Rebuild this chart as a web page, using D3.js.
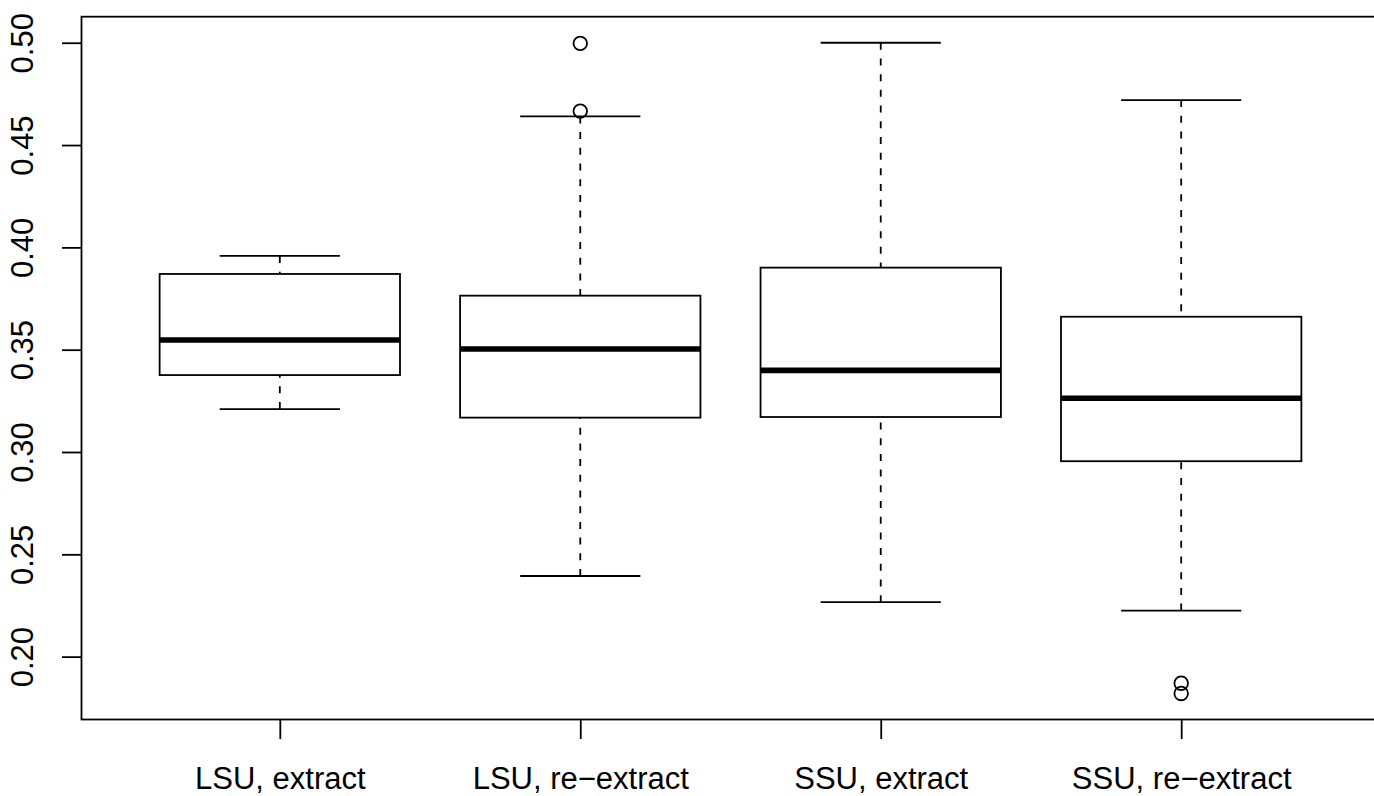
<!DOCTYPE html>
<html>
<head>
<meta charset="utf-8">
<script src="https://cdn.jsdelivr.net/npm/d3@7"></script>
<style>
  html, body { margin: 0; padding: 0; background: #fff; }
  svg { display: block; }
  text { font-family: "Liberation Sans", Arial, Helvetica, sans-serif; fill: #000; }
</style>
</head>
<body>
<svg id="chart" width="1374" height="796"></svg>
<script>
// ---- data ----
const categories = ["LSU, extract", "LSU, re\u2212extract", "SSU, extract", "SSU, re\u2212extract"];
const lowerWhisker = [0.321, 0.2394, 0.2266, 0.2225];
const q1 = [0.3376, 0.3168, 0.3171, 0.2955];
const median = [0.3547, 0.3503, 0.3399, 0.3263];
const q3 = [0.3870, 0.3764, 0.3901, 0.3661];
const upperWhisker = [0.3958, 0.4640, 0.5000, 0.4720];
const outliers = [[], [0.4666, 0.4997], [], [0.1870, 0.1820]];
const yTicks = [0.20, 0.25, 0.30, 0.35, 0.40, 0.45, 0.50];
const yTickLabels = ["0.20", "0.25", "0.30", "0.35", "0.40", "0.45", "0.50"];

// ---- layout ----
const svg = d3.select("#chart");
const plot = { left: 81.5, right: 1379.5, top: 16.7, bottom: 719.5 };

const allVals = [].concat(lowerWhisker, upperWhisker, outliers.flat());
const yMin = d3.min(allVals), yMax = d3.max(allVals);
const ext = (yMax - yMin) * 0.04;
const y = d3.scaleLinear().domain([yMin - ext, yMax + ext]).range([plot.bottom, plot.top]);
const n = categories.length;
const xExt = (n + 0.5 - 0.5) * 0.04;
const x = d3.scaleLinear().domain([0.5 - xExt, n + 0.5 + xExt]).range([plot.left, plot.right]);
const unit = x(2) - x(1);
const boxW = 0.8 * unit;
const stapleW = 0.5 * boxW;

const lw = 1.8;

const data = categories.map((c, i) => ({
  i, c, lo: lowerWhisker[i], q1: q1[i], med: median[i], q3: q3[i], hi: upperWhisker[i], out: outliers[i]
}));

const g = svg.append("g");

const boxes = g.selectAll("g.box").data(data).join("g").attr("class", "box");

// whiskers (dashed), drawn from staple toward box
boxes.append("line")
  .attr("x1", d => x(d.i + 1)).attr("x2", d => x(d.i + 1))
  .attr("y1", d => y(d.lo)).attr("y2", d => y(d.q1))
  .attr("stroke", "#000").attr("stroke-width", lw).attr("stroke-dasharray", "7,8.7");
boxes.append("line")
  .attr("x1", d => x(d.i + 1)).attr("x2", d => x(d.i + 1))
  .attr("y1", d => y(d.hi)).attr("y2", d => y(d.q3))
  .attr("stroke", "#000").attr("stroke-width", lw).attr("stroke-dasharray", "7,8.7");

// staples
boxes.append("line")
  .attr("x1", d => x(d.i + 1) - stapleW / 2).attr("x2", d => x(d.i + 1) + stapleW / 2)
  .attr("y1", d => y(d.lo)).attr("y2", d => y(d.lo))
  .attr("stroke", "#000").attr("stroke-width", lw);
boxes.append("line")
  .attr("x1", d => x(d.i + 1) - stapleW / 2).attr("x2", d => x(d.i + 1) + stapleW / 2)
  .attr("y1", d => y(d.hi)).attr("y2", d => y(d.hi))
  .attr("stroke", "#000").attr("stroke-width", lw);

// box
boxes.append("rect")
  .attr("x", d => x(d.i + 1) - boxW / 2)
  .attr("width", boxW)
  .attr("y", d => y(d.q3))
  .attr("height", d => y(d.q1) - y(d.q3))
  .attr("fill", "#fff").attr("stroke", "#000").attr("stroke-width", lw);

// median
boxes.append("line")
  .attr("x1", d => x(d.i + 1) - boxW / 2).attr("x2", d => x(d.i + 1) + boxW / 2)
  .attr("y1", d => y(d.med)).attr("y2", d => y(d.med))
  .attr("stroke", "#000").attr("stroke-width", 5.6);

// outliers
boxes.selectAll("circle").data(d => d.out.map(v => ({ i: d.i, v }))).join("circle")
  .attr("cx", d => x(d.i + 1)).attr("cy", d => y(d.v)).attr("r", 6.8)
  .attr("fill", "none").attr("stroke", "#000").attr("stroke-width", lw);

// frame
g.append("rect")
  .attr("x", plot.left).attr("y", plot.top)
  .attr("width", plot.right - plot.left).attr("height", plot.bottom - plot.top)
  .attr("fill", "none").attr("stroke", "#000").attr("stroke-width", lw);

// y axis
const yAxis = d3.axisLeft(y).tickValues(yTicks).tickSize(19.5).tickPadding(0)
  .tickFormat((d, i) => yTickLabels[i]);
const ya = svg.append("g").attr("transform", `translate(${plot.left},0)`).call(yAxis);
ya.select(".domain").remove();
ya.selectAll(".tick line").attr("stroke", "#000").attr("stroke-width", lw);
ya.selectAll(".tick text")
  .attr("x", null).attr("dy", null)
  .attr("text-anchor", "middle")
  .attr("font-size", 31)
  .attr("transform", "translate(-48.5,0) rotate(-90)")
  .attr("y", 0);

// x axis
const xAxis = d3.axisBottom(x).tickValues(categories.map((c, i) => i + 1)).tickSize(19.5).tickPadding(0)
  .tickFormat((d) => categories[d - 1]);
const xa = svg.append("g").attr("transform", `translate(0,${plot.bottom})`).call(xAxis);
xa.select(".domain").remove();
xa.selectAll(".tick line").attr("stroke", "#000").attr("stroke-width", lw);
xa.selectAll(".tick text")
  .attr("dy", null)
  .attr("y", 69.5)
  .attr("font-size", 31)
  .attr("text-anchor", "middle");
</script>
</body>
</html>
